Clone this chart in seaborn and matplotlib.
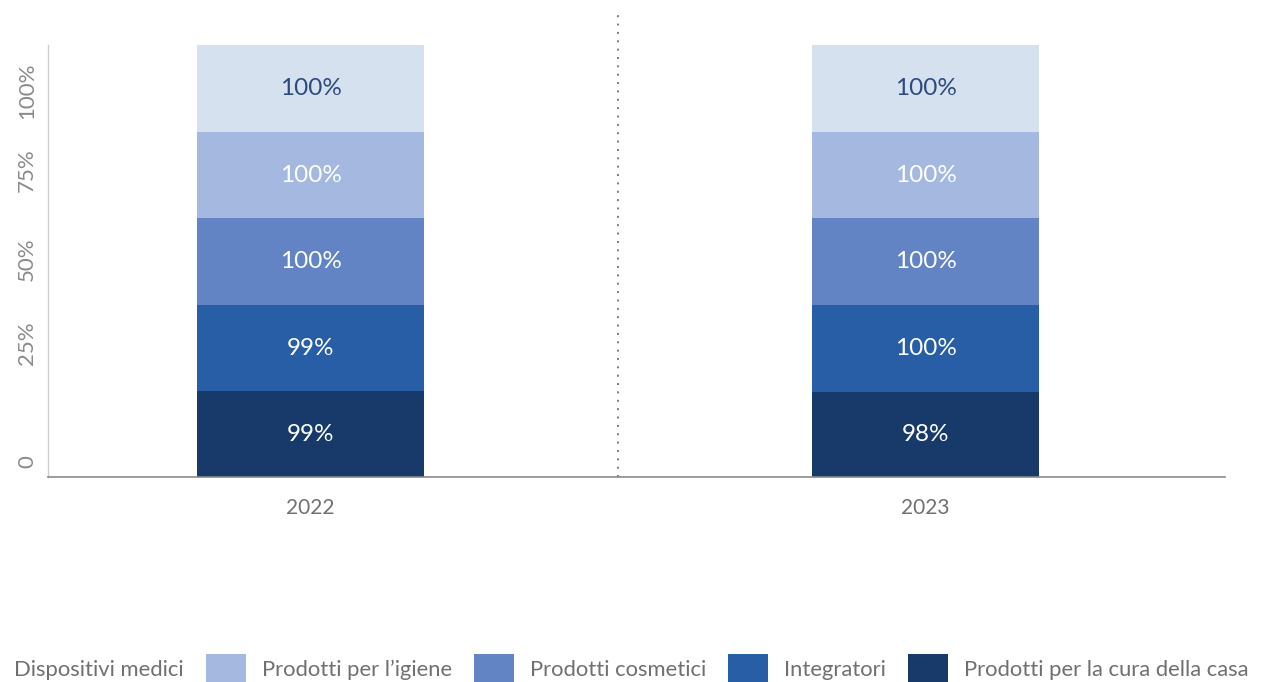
import matplotlib
matplotlib.use("Agg")
import matplotlib.pyplot as plt
from matplotlib.patches import Patch
from matplotlib.colors import to_hex
import seaborn as sns
import pandas as pd

# --- data -------------------------------------------------------------
years = ["2022", "2023"]
categories = [
    "Dispositivi medici",
    "Prodotti per l\u2019igiene",
    "Prodotti cosmetici",
    "Integratori",
    "Prodotti per la cura della casa",
]
values_2022 = [100, 100, 100, 99, 99]
values_2023 = [100, 100, 100, 100, 98]
ytick_labels = ["0", "25%", "50%", "75%", "100%"]

colors = ["#d6e1ef", "#a4b8e0", "#6283c4", "#275ea6", "#173a6b"]
label_colors = ["#2c4a7c", "white", "white", "white", "white"]

df = pd.DataFrame({
    "year": [y for y, vals in zip(years, [values_2022, values_2023]) for _ in vals],
    "category": categories * 2,
    "value": values_2022 + values_2023,
})

# --- style ------------------------------------------------------------
sns.set_theme(style="white")
plt.rcParams["font.family"] = ["Lato", "DejaVu Sans"]

fig = plt.figure(figsize=(12.64, 6.82), dpi=100)
ax = fig.add_axes([48 / 1264, 1 - 477 / 682, (1225 - 48) / 1264, (477 - 45) / 682])

sns.histplot(
    data=df, x="year", weights="value", hue="category",
    hue_order=categories, palette=colors, multiple="stack",
    discrete=True, shrink=0.369, alpha=1, linewidth=0,
    legend=False, ax=ax,
)

# stacked segment labels, matched to each layer through its fill colour
for cont in ax.containers:
    face = to_hex(cont.patches[0].get_facecolor())
    if face not in colors:
        continue
    idx = colors.index(face)
    vals = [values_2022[idx], values_2023[idx]]
    ax.bar_label(cont, labels=[f"{v:.0f}%" for v in vals], label_type="center",
                 color=label_colors[idx], fontsize=17.5)

total = max(sum(values_2022), sum(values_2023))
ax.set_ylim(0, total)
ax.set_xlim(-0.427, 1.487)

ytick_frac = [0.035, 0.31, 0.505, 0.71, 0.895]
ax.set_yticks([f * total for f in ytick_frac])
ax.set_yticklabels(ytick_labels, rotation=90, va="center", color="#8a8a8a",
                   fontsize=16)
ax.set_xticks([0, 1])
ax.set_xticklabels(years, color="#707070", fontsize=15)
ax.tick_params(axis="both", length=0)
ax.tick_params(axis="y", pad=8)
ax.tick_params(axis="x", pad=15)
ax.set_xlabel("")
ax.set_ylabel("")

for s in ["top", "right"]:
    ax.spines[s].set_visible(False)
ax.spines["left"].set_color("#cfcfcf")
ax.spines["left"].set_linewidth(1.0)
ax.spines["bottom"].set_color("#8a8a8a")
ax.spines["bottom"].set_linewidth(1.2)

# dotted separator between the two years
ax.axvline(0.5, ymin=0, ymax=(477 - 15) / 432, color="#7a7a7a",
           linewidth=1.4, linestyle=(0, (1, 3.3)), clip_on=False)

# legend along the bottom
handles = [Patch(facecolor=c, edgecolor="none") for c in colors]
fs = 15.8
fpx = fs * 100 / 72
fig.legend(
    handles, categories, loc="lower left", ncol=5, frameon=False,
    bbox_to_anchor=(-42 / 1264, -3 / 682), borderpad=0, borderaxespad=0,
    handlelength=40 / fpx, handleheight=40 / fpx, handletextpad=16 / fpx,
    columnspacing=22 / fpx,
    prop={"size": fs}, labelcolor="#707070",
)

fig.savefig("out.png", dpi=100)
